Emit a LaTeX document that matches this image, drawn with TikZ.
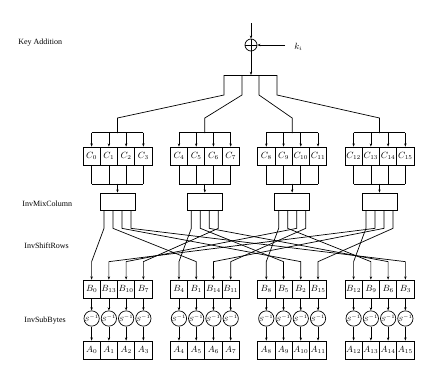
\documentclass[tikz,border=0pt]{standalone}
\usepackage{fontspec}
\setmainfont{Liberation Serif}
\usetikzlibrary{arrows.meta}
\tikzset{
    cell/.style={draw,minimum width=17.25pt,minimum height=18pt,inner sep=0pt,font=\fontsize{9}{9}\selectfont},
    mcbox/.style={draw,minimum width=35pt,minimum height=17pt,inner sep=0pt},
    sbox/.style={draw,circle,minimum size=11pt,inner sep=0pt,font=\fontsize{6.5}{6.5}\selectfont},
    steplabel/.style={anchor=west,inner sep=0pt,font=\fontsize{8}{8}\selectfont},
    >={Stealth[length=3.2pt,width=2.4pt]}
}
\begin{document}
\begin{tikzpicture}[x=1pt,y=-1pt,line width=0.7pt]
    \useasboundingbox (0,0) rectangle (440,370);
    \node [steplabel] (lkey) at (18,43) {Key Addition};
    \node [steplabel] (lmix) at (22,204) {InvMixColumn};
    \node [steplabel] (lshift) at (24,246) {InvShiftRows};
    \node [steplabel] (lsub) at (24,321) {InvSubBytes};
    \node [draw,circle,minimum size=12pt,inner sep=0pt] (xor) at (251,45) {};
    \draw (xor.north) -- (xor.south) (xor.west) -- (xor.east);
    \coordinate (in) at (251,23);
    \coordinate (kin) at (285,45);
    \node [anchor=west,inner sep=0pt,font=\fontsize{9}{9}\selectfont] (key) at (294,47) {$k_i$};
    \draw [->] (in) -- (xor.north);
    \draw [->] (kin) -- (xor.east);
    \coordinate (bus) at (251,75);
    \coordinate (bar0) at (224,75);
    \coordinate (bar1) at (242,75);
    \coordinate (bar2) at (259,75);
    \coordinate (bar3) at (277,75);
    \draw [->] (xor.south) -- (bus);
    \draw (bar0) -- (bar3);
    \foreach \g in {0,...,3}{
        \pgfmathsetmacro\gx{83+87.33*\g}
        \foreach \k in {0,...,3}{
            \pgfmathtruncatemacro\n{4*\g+\k}
            \pgfmathtruncatemacro\j{mod(\g-\k+4,4)}
            \pgfmathtruncatemacro\lbl{4*\j+\k}
            \pgfmathsetmacro\cx{\gx+8.625+17.25*\k}
            \node [cell] (c\n) at (\cx,156) {$C_{\n}$};
            \node [cell] (b\n) at (\cx,289) {$B_{\lbl}$};
            \node [sbox] (s\n) at (\cx,318.5) {$S^{\scriptscriptstyle -1}$};
            \node [cell] (a\n) at (\cx,350) {$A_{\n}$};
            \draw [->] ([yshift=14pt]c\n.north) -- (c\n.north);
            \draw (c\n.south) -- ++(0,19);
            \draw [->] (b\n.south) -- (s\n.north);
            \draw [->] (s\n.south) -- (a\n.north);
        }
        \pgfmathtruncatemacro\first{4*\g}
        \pgfmathtruncatemacro\last{4*\g+3}
        \node [mcbox] (mc\g) at (\gx+34.5,201.5) {};
        \coordinate (top\g) at (\gx+34.5,133);
        \draw ([yshift=14pt]c\first.north) -- ([yshift=14pt]c\last.north);
        \draw ([yshift=-19pt]c\first.south) -- ([yshift=-19pt]c\last.south);
        \draw [->] ([yshift=9pt]mc\g.north) -- (mc\g.north);
        \draw (bar\g) -- ++(0,20) -- ([yshift=15pt]top\g) -- (top\g);
    }
    \foreach \j in {0,...,3}
        \foreach \k in {0,...,3}{
            \pgfmathtruncatemacro\g{mod(\j+\k,4)}
            \pgfmathtruncatemacro\n{4*\g+\k}
            \draw [->] ([xshift={(\k-1.5)*9}]mc\j.south) -- ++(0,18) -- ([yshift=18pt]b\n.north) -- (b\n.north);
        }
\end{tikzpicture}
\end{document}
